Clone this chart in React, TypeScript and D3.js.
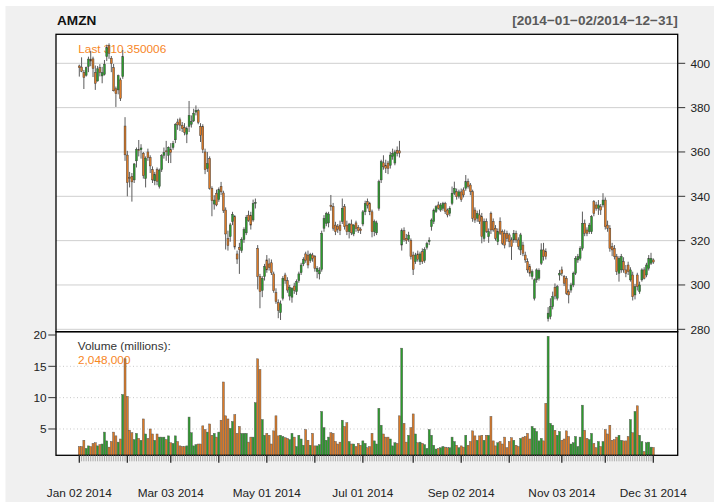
import React from "react";
import * as d3 from "d3";

// ---------- data ----------
const holidays = ["2014-01-01","2014-01-20","2014-02-17","2014-04-18","2014-05-26","2014-07-04","2014-09-01","2014-11-27","2014-12-25"];
const labelMonths = [0, 2, 4, 6, 8, 10];
const priceTicks = [280, 300, 320, 340, 360, 380, 400];
const volumeTicks = [5, 10, 15, 20];
const volumeGrid = [5, 10, 15];
const symbol = "AMZN";
const lastCloseLabel = "310.350006";
const lastVolumeLabel = "2,048,000";

// [open, high, low, close]
const ohlc: [number, number, number, number][] = [
  // Jan
  [398.8,399.4,394.0,398.0],[398.3,402.7,396.0,396.4],[395.9,397.0,388.4,393.6],[394.6,398.5,394.0,398.0],
  [398.5,403.0,396.0,401.9],[401.9,405.6,398.7,401.0],[402.0,403.0,393.8,397.7],[395.9,399.0,388.0,391.0],
  [392.0,398.8,391.8,397.5],[398.0,399.6,394.1,395.9],[394.3,398.4,391.0,395.8],[395.0,401.5,394.5,399.6],
  [403.0,408.4,401.0,407.1],[408.0,409.0,402.0,404.5],[402.3,403.3,396.0,399.9],[398.0,399.7,387.3,387.6],
  [388.5,389.5,380.3,386.3],[388.0,394.9,386.0,394.4],[392.5,393.5,383.0,384.2],[394.0,406.0,393.0,403.0],
  [371.7,375.7,356.0,358.7],
  // Feb
  [358.6,360.5,340.0,346.2],[348.5,351.0,344.0,348.0],[349.0,350.5,337.6,346.5],[347.4,355.0,346.0,354.6],
  [356.0,362.0,353.0,361.1],[361.0,365.4,358.0,360.9],[361.0,363.5,357.0,361.8],[359.4,360.0,348.0,349.3],
  [348.0,358.0,344.0,357.2],[360.0,361.5,356.0,357.4],[357.5,358.5,350.5,353.7],[352.0,353.5,346.0,347.4],
  [347.0,351.0,345.0,349.8],[352.0,353.0,345.0,346.8],[344.5,352.5,343.5,351.8],[352.0,359.0,351.0,358.3],
  [358.5,362.0,357.0,359.8],[360.5,365.0,356.0,360.1],[358.5,362.5,355.0,362.1],
  // Mar
  [361.0,364.0,355.0,359.8],[362.0,365.0,361.0,363.9],[365.5,373.0,364.0,372.4],[373.5,375.0,370.0,372.2],
  [374.5,375.5,369.5,372.1],[372.0,373.5,369.0,370.5],[371.0,373.0,367.5,368.8],[368.0,371.5,364.0,370.6],
  [371.5,383.0,369.0,376.5],[372.5,376.5,371.0,373.7],[374.0,379.5,373.5,377.5],[378.0,381.0,376.5,378.8],
  [378.6,379.5,372.5,373.4],[371.5,373.0,364.5,367.5],[371.5,372.5,359.5,361.0],[360.0,361.5,350.0,352.0],
  [352.5,360.0,351.0,354.7],[357.0,358.0,343.0,343.6],[343.6,344.5,331.0,338.0],[336.5,340.5,334.0,338.3],
  [341.4,343.0,335.5,336.1],
  // Apr
  [338.5,344.0,337.5,343.0],[344.5,346.5,340.5,342.0],[341.5,342.5,332.5,333.6],[333.8,335.0,316.0,323.0],
  [321.0,324.5,315.5,317.8],[321.8,328.0,319.5,327.1],[328.6,333.0,327.0,331.8],[330.8,331.5,316.0,317.1],
  [314.0,315.5,309.5,311.7],[317.0,319.0,305.0,315.9],[315.5,321.5,314.5,320.5],[320.5,326.0,319.0,325.0],
  [323.5,331.5,322.5,330.5],[331.5,333.5,328.5,329.0],[331.5,333.0,325.0,327.0],[329.3,338.5,328.5,336.8],
  [337.0,339.0,334.5,337.2],[316.5,318.0,298.0,303.8],[303.8,305.0,289.5,297.0],[297.5,304.0,294.5,303.0],
  [303.8,309.5,302.0,308.3],
  // May
  [311.3,313.5,305.5,306.8],[309.5,312.0,306.5,307.8],[310.0,311.5,304.5,305.5],[305.0,306.0,296.5,297.4],
  [296.5,298.5,291.5,292.5],[292.0,293.5,285.0,288.5],[287.5,293.0,284.2,291.5],[294.0,304.0,293.0,303.0],
  [304.5,305.5,300.5,302.0],[302.0,303.5,296.5,297.7],[295.0,300.0,293.0,299.0],[294.5,299.0,292.0,298.5],
  [299.5,301.0,296.0,297.5],[297.0,302.5,295.5,301.5],[302.0,306.0,301.0,305.0],[305.5,310.0,304.5,309.0],
  [309.5,312.5,308.5,311.5],[314.0,315.0,310.0,311.0],[313.5,315.5,307.5,309.0],[311.0,314.5,310.0,313.8],
  [313.5,314.5,310.5,312.0],
  // Jun
  [312.8,313.5,306.0,307.5],[306.0,308.5,303.0,307.5],[305.0,308.0,302.5,306.5],[307.0,324.5,306.0,323.3],
  [325.6,331.5,324.0,330.0],[327.8,333.0,326.5,332.3],[328.0,333.0,326.0,332.0],[336.0,340.6,333.5,335.3],
  [335.3,337.0,324.5,325.6],[327.0,328.5,322.5,324.0],[326.5,327.5,323.5,325.0],[327.0,329.0,322.5,324.5],
  [328.6,339.0,327.5,334.6],[335.3,336.5,325.0,326.3],[327.0,329.0,322.5,324.0],[324.0,328.0,321.0,327.5],
  [327.5,329.5,322.5,323.5],[323.0,327.5,322.0,327.0],[328.0,329.0,324.0,325.5],[326.0,327.0,323.5,324.5],
  [325.2,326.0,323.0,324.5],
  // Jul
  [327.5,333.8,326.5,333.0],[333.0,338.0,331.5,336.8],[337.6,339.0,334.5,336.0],[336.8,337.5,331.5,333.0],
  [333.0,334.0,321.5,324.0],[324.0,329.5,322.0,328.6],[323.5,329.0,322.5,328.0],[334.6,347.5,333.5,346.6],
  [347.4,356.5,346.0,355.6],[355.1,358.5,352.0,353.3],[354.0,356.5,350.5,352.6],[355.0,356.0,350.0,352.6],
  [354.0,360.0,352.5,358.6],[358.0,361.5,356.5,359.4],[355.0,361.0,354.0,360.0],[360.8,362.5,358.0,359.4],
  [360.5,365.0,357.5,359.5],[318.0,325.5,315.5,324.5],[324.5,326.0,319.5,320.5],[321.0,323.0,318.5,320.0],
  [320.5,324.0,319.5,322.5],[320.0,321.0,311.5,312.8],
  // Aug
  [313.5,315.0,304.5,307.0],[310.5,314.5,309.5,313.5],[314.0,315.5,310.5,311.5],[310.5,315.0,309.0,314.0],
  [315.0,316.5,309.5,310.5],[311.0,317.0,310.0,316.0],[317.0,319.5,316.0,318.7],[319.5,321.5,318.0,320.2],
  [326.3,330.0,324.5,329.3],[328.6,334.5,327.5,333.8],[333.1,336.0,332.5,335.3],[336.1,337.6,334.0,334.6],
  [333.8,337.0,333.0,336.1],[334.6,337.5,333.5,336.8],[336.8,337.5,332.0,333.1],[333.8,334.5,330.5,331.6],
  [332.3,335.5,331.0,334.6],[336.8,344.4,336.0,341.4],[341.4,346.6,340.5,343.6],[342.1,343.5,338.5,339.8],
  [340.0,343.0,339.0,342.0],
  // Sep
  [342.0,343.5,337.5,338.5],[342.9,344.0,339.5,340.6],[343.6,349.6,342.5,346.6],[346.6,348.0,343.5,344.4],
  [345.1,346.0,340.5,342.1],[342.1,343.0,328.5,330.1],[333.8,335.0,328.0,329.3],[330.1,333.5,328.5,332.3],
  [331.6,334.0,327.5,328.6],[330.8,332.5,318.8,321.8],[321.0,330.0,319.5,328.6],[328.6,330.0,323.5,324.1],
  [321.8,325.5,319.0,324.1],[332.3,333.1,323.0,324.8],[328.6,330.0,324.0,324.8],[325.6,327.0,320.0,321.0],
  [319.5,325.5,318.0,324.1],[328.6,330.5,322.5,323.3],[324.1,325.0,318.0,318.8],[323.3,325.0,316.5,318.0],
  [323.3,324.5,319.5,321.0],
  // Oct
  [322.6,323.5,317.0,319.5],[320.3,321.5,311.3,317.3],[320.3,324.8,319.0,323.3],[323.3,324.5,319.0,320.3],
  [320.3,321.5,316.0,317.3],[315.8,323.5,313.5,322.6],[318.0,319.5,313.0,314.3],[313.5,315.0,310.0,311.3],
  [310.5,312.0,305.5,306.8],[308.3,309.5,303.8,305.3],[303.8,307.0,302.5,306.0],[294.0,303.0,293.0,302.3],
  [302.3,307.5,301.0,306.8],[303.0,307.5,302.0,306.5],[309.8,318.8,309.0,315.8],[315.8,319.0,311.0,312.8],
  [315.0,316.5,311.5,312.8],[284.8,290.0,283.5,287.3],[285.7,294.0,284.5,290.2],[290.2,297.0,289.0,294.7],
  [299.0,300.7,293.5,295.0],[294.0,300.0,293.0,299.2],[304.5,306.8,302.0,305.3],
  // Nov
  [306.8,308.3,304.0,305.3],[303.8,304.5,299.5,300.8],[303.0,304.0,295.5,296.2],[297.0,298.0,291.7,295.5],
  [297.7,301.0,296.5,300.0],[300.0,306.0,299.0,305.3],[305.3,313.0,304.5,312.0],[311.3,314.0,310.0,312.8],
  [312.0,317.5,311.0,316.5],[316.5,333.1,315.5,327.8],[327.8,329.5,322.0,323.3],[324.8,326.0,322.0,323.3],
  [324.0,328.0,323.0,327.0],[324.0,331.5,323.0,330.8],[337.6,338.3,331.0,332.3],[336.1,337.5,333.5,334.6],
  [334.6,338.3,331.6,336.1],[335.3,336.5,331.6,333.8],[336.1,341.4,335.0,338.3],
  // Dec
  [338.3,339.5,325.0,326.3],[327.0,329.0,324.0,325.6],[325.6,327.0,315.0,316.5],[317.3,319.0,313.0,315.8],
  [316.5,318.0,311.5,312.8],[312.8,314.0,304.5,306.0],[305.3,313.0,301.5,312.0],[306.8,314.0,305.5,312.8],
  [310.5,312.5,305.5,306.8],[306.8,309.0,303.5,305.3],[309.0,310.5,304.5,306.0],[302.3,308.0,301.5,306.8],
  [304.5,306.0,293.0,294.7],[295.5,300.5,293.5,299.2],[304.5,305.5,297.5,299.2],[297.0,301.5,296.0,300.0],
  [302.3,307.5,301.5,306.8],[306.8,308.0,302.5,303.0],[304.5,310.0,303.5,309.0],[307.5,313.5,306.5,312.0],
  [309.8,314.5,309.0,312.0],[311.3,312.0,309.5,310.35],
];

// volume, millions of shares
const volumes: number[] = [
  // Jan
  2.2,2.2,3.2,1.9,2.3,2.2,2.7,2.8,2.3,2.5,2.6,4.5,3.1,2.1,3.0,4.5,3.9,2.9,3.4,10.5,16.2,
  // Feb
  10.2,4.8,4.4,3.3,4.3,3.5,3.2,6.6,4.2,3.5,5.0,4.2,3.2,4.2,3.7,3.7,3.7,3.3,3.9,
  // Mar
  2.8,2.7,3.9,3.0,2.3,2.2,2.2,2.3,6.9,4.4,2.3,2.5,2.6,2.6,5.5,4.9,4.5,5.8,4.0,4.3,3.7,
  // Apr
  4.5,6.4,12.5,7.1,6.6,5.1,6.2,7.3,4.3,5.4,4.3,4.3,4.3,2.9,3.7,3.7,9.2,16.2,14.5,6.5,4.0,
  // May
  4.3,4.0,2.6,4.7,7.1,3.9,4.0,3.8,3.6,3.5,3.3,4.3,3.7,2.2,4.0,3.4,2.4,4.9,3.2,2.4,4.3,
  // Jun
  2.3,2.3,2.5,7.8,5.2,3.2,3.7,4.4,4.3,3.0,2.6,2.9,6.4,5.4,6.0,3.0,2.6,2.6,2.2,2.7,2.4,
  // Jul
  3.1,2.7,2.0,2.2,4.3,3.1,2.6,8.3,5.6,4.2,3.7,3.7,3.4,2.3,2.8,2.7,7.1,17.9,5.9,2.9,4.0,5.2,
  // Aug
  7.4,4.2,2.8,2.9,2.7,2.5,1.9,4.9,4.0,2.4,1.8,1.9,2.0,2.2,2.1,2.0,2.0,3.7,3.0,2.4,2.0,
  // Sep
  2.3,2.1,4.0,2.4,3.0,4.7,3.9,3.2,3.9,4.0,3.2,4.0,4.0,7.0,3.1,2.3,2.8,3.0,2.6,3.7,2.0,
  // Oct
  3.0,3.6,3.2,2.4,2.2,3.5,3.7,3.8,4.3,3.4,5.4,5.1,4.6,3.1,3.5,3.1,9.1,19.8,5.9,5.6,4.8,4.0,4.6,
  // Nov
  3.2,3.4,4.7,3.8,2.6,2.8,3.8,2.2,3.7,8.8,4.8,3.5,3.3,4.3,2.7,2.0,3.0,2.2,3.0,
  // Dec
  4.9,4.2,5.6,3.2,3.3,3.7,4.0,3.2,3.1,3.1,3.8,6.5,4.4,7.8,8.7,4.0,3.0,1.4,2.8,2.9,2.1,2.048,
];

// ---------- trading calendar ----------
const fmtISO = d3.timeFormat("%Y-%m-%d");
const fmtLabel = d3.timeFormat("%b %d %Y");
const tradingDays: Date[] = d3
  .timeDay.range(new Date(2014, 0, 1), new Date(2015, 0, 1))
  .filter((d) => d.getDay() !== 0 && d.getDay() !== 6 && !holidays.includes(fmtISO(d)));

const monthStarts: number[] = [];
tradingDays.forEach((d, i) => {
  if (i === 0 || d.getMonth() !== tradingDays[i - 1].getMonth()) monthStarts.push(i);
});
const lastIdx = tradingDays.length - 1;
const majorTicks = [...monthStarts, lastIdx];
const labelTicks = [
  ...monthStarts.filter((i) => labelMonths.includes(tradingDays[i].getMonth())),
  lastIdx,
];

// ---------- layout ----------
const W = 714, H = 502;
const PL = 56, PR = 677.7, PT = 34.3, PM = 331.7, PB = 455.3;
const FONT = "'Liberation Sans', Arial, Helvetica, sans-serif";
const UP = "#2c9c2c";
const DN = "#dc7a26";
const ORANGE = "#f7861f";

export default function App() {
  const x = d3.scaleLinear().domain([0, lastIdx]).range([79.3, 653.3]);
  const yP = d3.scaleLinear().domain([280, 400]).range([329.3, 63.3]);
  const yV = d3.scaleLinear().domain([0, 20]).range([460.3, 335]);

  const rangeText =
    "[" + fmtISO(tradingDays[0]).replace(/-/g, "\u2212") + "/" +
    fmtISO(tradingDays[lastIdx]).replace(/-/g, "\u2212") + "]";

  return (
    <svg width={W} height={H} style={{ position: "absolute", left: 0, top: 0 }} fontFamily={FONT}>
      <defs>
        <clipPath id="vclip">
          <rect x={PL} y={PM} width={PR - PL} height={PB - PM} />
        </clipPath>
      </defs>
      <rect x={0} y={0} width={W} height={H} fill="#ffffff" />
      <rect x={5.5} y={6} width={W - 5.5} height={H - 6} fill="#f0f0f0" />

      {/* title */}
      <text x={57} y={25} fontSize={13.6} fontWeight="bold" fill="#111">{symbol}</text>
      <text x={PR} y={25} fontSize={13.6} fontWeight="bold" fill="#5a5a5a" textAnchor="end">{rangeText}</text>

      {/* panels */}
      <rect x={PL} y={PT} width={PR - PL} height={PM - PT} fill="#ffffff" />
      <rect x={PL} y={PM} width={PR - PL} height={PB - PM} fill="#ffffff" />

      {/* price grid */}
      {priceTicks.map((t) => (
        <line key={"g" + t} x1={PL} x2={PR} y1={yP(t)} y2={yP(t)} stroke="#cfcfcf" strokeWidth={1} />
      ))}
      {/* volume grid */}
      {volumeGrid.map((t) => (
        <line key={"vg" + t} x1={PL} x2={PR} y1={yV(t)} y2={yV(t)} stroke="#c8c8c8" strokeWidth={1} strokeDasharray="1,2.5" />
      ))}

      <text x={78.3} y={53.3} fontSize={11.8} fill={ORANGE}>{"Last " + lastCloseLabel}</text>
      <text x={77.7} y={349.5} fontSize={11.8} fill="#333">Volume (millions):</text>
      <text x={78} y={363.5} fontSize={11.8} fill={ORANGE}>{lastVolumeLabel}</text>

      {/* candles */}
      {ohlc.map(([o, h, l, c], i) => {
        const cx = x(i);
        const top = yP(Math.max(o, c));
        const bot = yP(Math.min(o, c));
        return (
          <g key={"c" + i}>
            <line x1={cx} x2={cx} y1={yP(h)} y2={yP(l)} stroke="#5c5c5c" strokeWidth={1} />
            <rect x={cx - 0.95} y={top} width={1.9} height={Math.max(bot - top, 0.9)}
              fill={c >= o ? UP : DN} stroke="#3c3c3c" strokeWidth={0.45} />
          </g>
        );
      })}

      {/* volume bars */}
      <g clipPath="url(#vclip)">
        {volumes.map((v, i) => {
          const [o, , , c] = ohlc[i];
          const yy = yV(v);
          return (
            <rect key={"v" + i} x={x(i) - 1} y={yy} width={2} height={PB - yy}
              fill={c >= o ? UP : DN} stroke="#555" strokeWidth={0.45} />
          );
        })}
      </g>

      {/* frames */}
      <rect x={PL} y={PT} width={PR - PL} height={PM - PT} fill="none" stroke="#000" strokeWidth={1.3} />
      <rect x={PL} y={PM} width={PR - PL} height={PB - PM} fill="none" stroke="#000" strokeWidth={1.3} />

      {/* right price axis */}
      {priceTicks.map((t) => (
        <g key={"pt" + t}>
          <line x1={PR} x2={PR + 7.5} y1={yP(t)} y2={yP(t)} stroke="#333" strokeWidth={1} />
          <text x={690.5} y={yP(t) + 4.2} fontSize={11.8} fill="#222">{t}</text>
        </g>
      ))}

      {/* left volume axis */}
      {volumeTicks.map((t) => (
        <g key={"vt" + t}>
          <line x1={PL - 7.7} x2={PL} y1={yV(t)} y2={yV(t)} stroke="#333" strokeWidth={1} />
          <text x={46.5} y={yV(t) + 4.2} fontSize={11.8} fill="#222" textAnchor="end">{t}</text>
        </g>
      ))}

      {/* x axis ticks */}
      {tradingDays.map((d, i) => (
        <line key={"mt" + i} x1={x(i)} x2={x(i)} y1={PB} y2={PB + 6} stroke="#9a9a9a" strokeWidth={0.8} />
      ))}
      {majorTicks.map((i) => (
        <line key={"Mt" + i} x1={x(i)} x2={x(i)} y1={PB} y2={PB + 7.5} stroke="#222" strokeWidth={1.2} />
      ))}
      {labelTicks.map((i) => (
        <text key={"lt" + i} x={x(i)} y={496.5} fontSize={11.8} fill="#222" textAnchor="middle">
          {fmtLabel(tradingDays[i])}
        </text>
      ))}
    </svg>
  );
}
